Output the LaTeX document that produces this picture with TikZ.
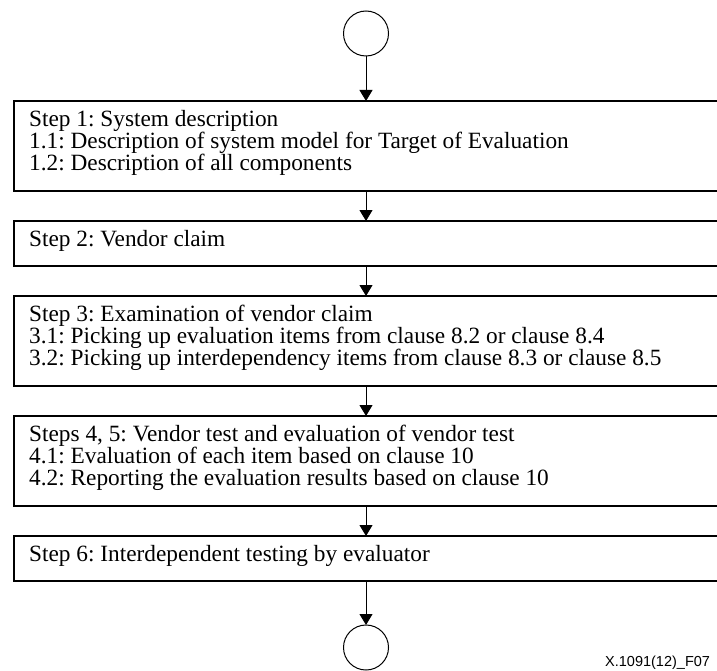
\documentclass[tikz,border=0pt]{standalone}
\usepackage{fontspec}
\setmainfont{Liberation Serif}
\newfontfamily\figidfont{Liberation Sans}
\usetikzlibrary{positioning,arrows.meta}
\frenchspacing

\begin{document}
\begin{tikzpicture}[
  x=1pt, y=-1pt,
  stepbox/.style={draw, line width=1.2pt, minimum width=704pt, inner sep=0pt,
                  outer sep=0pt},
  steptext/.style={anchor=north west, inner sep=0pt, align=left,
                   font=\fontsize{23.3}{22}\selectfont},
  endpoint/.style={draw, circle, line width=1pt, minimum size=45pt, inner sep=0pt,
                   outer sep=0pt},
  flow/.style={->, line width=1pt},
  >={Triangle[length=11pt, width=13pt]}
]
  \useasboundingbox (0,0) rectangle (717,671);
  \clip (0,0) rectangle (717,671);

  \node[endpoint] (start) at (366,33.5) {};
  \node[stepbox, minimum height=90pt, below=45pt of start] (s1) {};
  \node[stepbox, minimum height=45pt, below=30pt of s1] (s2) {};
  \node[stepbox, minimum height=90pt, below=30pt of s2] (s3) {};
  \node[stepbox, minimum height=90pt, below=30pt of s3] (s4) {};
  \node[stepbox, minimum height=45pt, below=30pt of s4] (s5) {};
  \node[endpoint, below=44pt of s5] (stop) {};

  % texts inside the boxes
  \node[steptext] (t1) at ([xshift=15pt, yshift=-9pt]s1.north west)
    {Step 1: System description\\
     1.1: Description of system model for Target of Evaluation\\
     1.2: Description of all components};
  \node[steptext] (t2) at ([xshift=15pt, yshift=-9pt]s2.north west)
    {Step 2: Vendor claim};
  \node[steptext] (t3) at ([xshift=15pt, yshift=-9pt]s3.north west)
    {Step 3: Examination of vendor claim\\
     3.1: Picking up evaluation items from clause 8.2 or clause 8.4\\
     3.2: Picking up interdependency items from clause 8.3 or clause 8.5};
  \node[steptext] (t4) at ([xshift=15pt, yshift=-9pt]s4.north west)
    {Steps 4, 5: Vendor test and evaluation of vendor test\\
     4.1: Evaluation of each item based on clause 10\\
     4.2: Reporting the evaluation results based on clause 10};
  \node[steptext] (t5) at ([xshift=15pt, yshift=-9pt]s5.north west)
    {Step 6: Interdependent testing by evaluator};

  \draw[flow] (start) -- (s1);
  \draw[flow] (s1) -- (s2);
  \draw[flow] (s2) -- (s3);
  \draw[flow] (s3) -- (s4);
  \draw[flow] (s4) -- (s5);
  \draw[flow] (s5) -- (stop);

  \node[anchor=base west, inner sep=0pt, font=\figidfont\fontsize{14.5}{16}\selectfont]
    (figid) at (605,666) {X.1091(12)\_F07};
\end{tikzpicture}
\end{document}
